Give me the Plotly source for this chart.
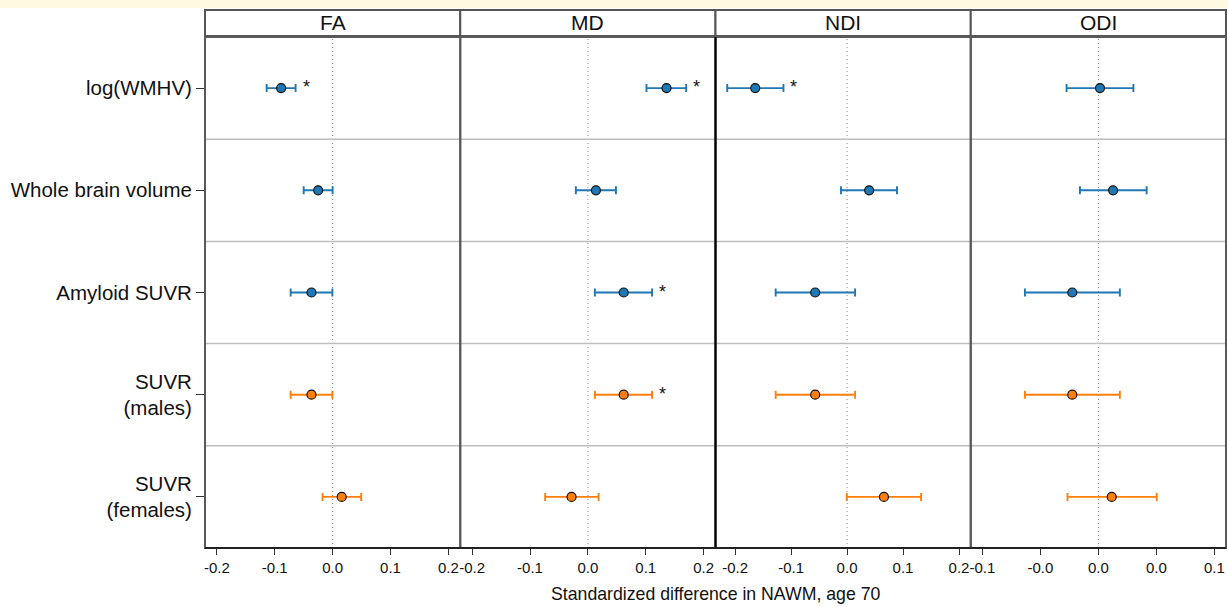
import plotly.graph_objects as go

# ---------------- data ----------------
rows = ["log(WMHV)", "Whole brain volume", "Amyloid SUVR", "SUVR<br>(males)", "SUVR<br>(females)"]
row_group = ["all", "all", "all", "sex", "sex"]
metrics = ["FA", "MD", "NDI", "ODI"]

fa_est = [-0.089, -0.025, -0.0365, -0.0365, 0.0157]
fa_lo = [-0.114, -0.050, -0.0725, -0.0725, -0.0174]
fa_hi = [-0.064, 0.000, -0.0005, -0.0005, 0.0493]
fa_sig = [1, 0, 0, 0, 0]

md_est = [0.1359, 0.0139, 0.0619, 0.0619, -0.0282]
md_lo = [0.1012, -0.0208, 0.0121, 0.0121, -0.0738]
md_hi = [0.1698, 0.0485, 0.1109, 0.1109, 0.0185]
md_sig = [1, 0, 1, 1, 0]

ndi_est = [-0.164, 0.0395, -0.0569, -0.0569, 0.0659]
ndi_lo = [-0.214, -0.0108, -0.1275, -0.1275, -0.0005]
ndi_hi = [-0.1136, 0.0892, 0.0144, 0.0144, 0.1323]
ndi_sig = [1, 0, 0, 0, 0]

odi_est = [0.0014, 0.0127, -0.0225, -0.0225, 0.0115]
odi_lo = [-0.0274, -0.0159, -0.0633, -0.0633, -0.0266]
odi_hi = [0.0302, 0.0416, 0.0185, 0.0185, 0.0503]
odi_sig = [0, 0, 0, 0, 0]

tick_vals_wide = [-0.2, -0.1, 0.0, 0.1, 0.2]
tick_text_wide = ["-0.2", "-0.1", "0.0", "0.1", "0.2"]
tick_vals_odi = [-0.1, -0.05, 0.0, 0.05, 0.1]
tick_text_odi = ["-0.1", "-0.0", "0.0", "0.0", "0.1"]

x_title = "Standardized difference in NAWM, age 70"

# ---------------- styling ----------------
FONT = "Liberation Sans, Arial, sans-serif"
colors = {"all": "#1f77b4", "sex": "#ff7f0e"}
ranges = [[-0.2205, 0.2205], [-0.2205, 0.2205], [-0.235, 0.221], [-0.11, 0.11]]
ticks = [(tick_vals_wide, tick_text_wide)] * 3 + [(tick_vals_odi, tick_text_odi)]

panels = [
    (fa_est, fa_lo, fa_hi, fa_sig),
    (md_est, md_lo, md_hi, md_sig),
    (ndi_est, ndi_lo, ndi_hi, ndi_sig),
    (odi_est, odi_lo, odi_hi, odi_sig),
]

PH = 511.0   # plot-area height in px
PW = 1021.0  # plot-area width in px

fig = go.Figure()
shapes = []
annotations = []

for k, (est, lo, hi, sig) in enumerate(panels):
    xa = "x" if k == 0 else f"x{k+1}"
    for grp in ["all", "sex"]:
        idx = [i for i, g in enumerate(row_group) if g == grp]
        fig.add_trace(go.Scatter(
            x=[est[i] for i in idx],
            y=[rows[i] for i in idx],
            mode="markers",
            xaxis=xa, yaxis="y",
            marker=dict(size=9, color=colors[grp], line=dict(color="#111", width=1.2)),
            error_x=dict(type="data", symmetric=False,
                         array=[hi[i] - est[i] for i in idx],
                         arrayminus=[est[i] - lo[i] for i in idx],
                         color=colors[grp], thickness=1.9, width=4),
            showlegend=False, hoverinfo="x+y",
        ))
    # zero reference line
    shapes.append(dict(type="line", xref=xa, yref="paper", x0=0, x1=0, y0=0, y1=1,
                       line=dict(color="#8a8a8a", width=1, dash="1px,3px"), layer="below"))
    # significance stars
    for i in range(len(rows)):
        if sig[i]:
            annotations.append(dict(x=hi[i], y=rows[i], xref=xa, yref="y", text="*",
                                    showarrow=False, xanchor="center", yanchor="middle",
                                    xshift=10.5, yshift=1,
                                    font=dict(family=FONT, size=18, color="#111")))
    # header strip
    x0 = k * 0.25
    x1 = (k + 1) * 0.25
    shapes.append(dict(type="rect", xref="paper", yref="paper", x0=x0, x1=x1,
                       y0=1 + 1 / PH, y1=1 + 27 / PH,
                       line=dict(color="#555", width=2), fillcolor="white"))
    annotations.append(dict(x=(x0 + x1) / 2, y=1 + 14 / PH, xref="paper", yref="paper",
                            text=metrics[k], showarrow=False, xanchor="center", yanchor="middle",
                            font=dict(family=FONT, size=21, color="#111")))

# row separators
for b in [0.5, 1.5, 2.5, 3.5]:
    shapes.append(dict(type="line", xref="paper", yref="y", x0=0, x1=1, y0=b, y1=b,
                       line=dict(color="#bdbdbd", width=1.5), layer="below"))

# panel borders
for k in range(4):
    shapes.append(dict(type="rect", xref="paper", yref="paper", x0=k * 0.25, x1=(k + 1) * 0.25,
                       y0=0, y1=1, line=dict(color="#5a5a5a", width=2)))
shapes.append(dict(type="line", xref="paper", yref="paper", x0=0.5, x1=0.5, y0=0, y1=1,
                   line=dict(color="#000", width=2)))
shapes.append(dict(type="line", xref="paper", yref="paper", x0=0, x1=1, y0=0, y1=0,
                   line=dict(color="#222", width=2)))

# top cream band
shapes.append(dict(type="rect", xref="paper", yref="paper", x0=-205 / PW, x1=1 + 2 / PW,
                   y0=1 + 29 / PH, y1=1 + 37 / PH, line=dict(width=0), fillcolor="#fef9e0",
                   layer="below"))

# x-axis title
annotations.append(dict(x=0.5, y=-46 / PH, xref="paper", yref="paper", text=x_title,
                        showarrow=False, xanchor="center", yanchor="middle",
                        font=dict(family=FONT, size=17.7, color="#111")))

layout = dict(
    width=1228, height=607,
    margin=dict(l=205, r=2, t=37, b=59),
    paper_bgcolor="white", plot_bgcolor="white",
    font=dict(family=FONT, color="#111"),
    shapes=shapes, annotations=annotations,
    yaxis=dict(type="category", categoryorder="array", categoryarray=rows,
               range=[4.5, -0.5], showgrid=False, zeroline=False,
               ticks="outside", ticklen=8, tickwidth=1.2, tickcolor="#333",
               tickfont=dict(family=FONT, size=20.5, color="#111"), showline=False,
               domain=[0, 1], anchor="x"),
)
for k in range(4):
    key = "xaxis" if k == 0 else f"xaxis{k+1}"
    tv, tt = ticks[k]
    layout[key] = dict(domain=[k * 0.25, (k + 1) * 0.25], range=ranges[k], anchor="y",
                       tickvals=tv, ticktext=tt, showgrid=False, zeroline=False,
                       ticks="outside", ticklen=6, tickwidth=1.2, tickcolor="#333",
                       tickfont=dict(family=FONT, size=15, color="#111"), showline=False)

fig.update_layout(**layout)
fig.write_html("out.html",
               config={"displayModeBar": False},
               post_script="document.body.style.margin='0';document.body.style.overflow='hidden';")
